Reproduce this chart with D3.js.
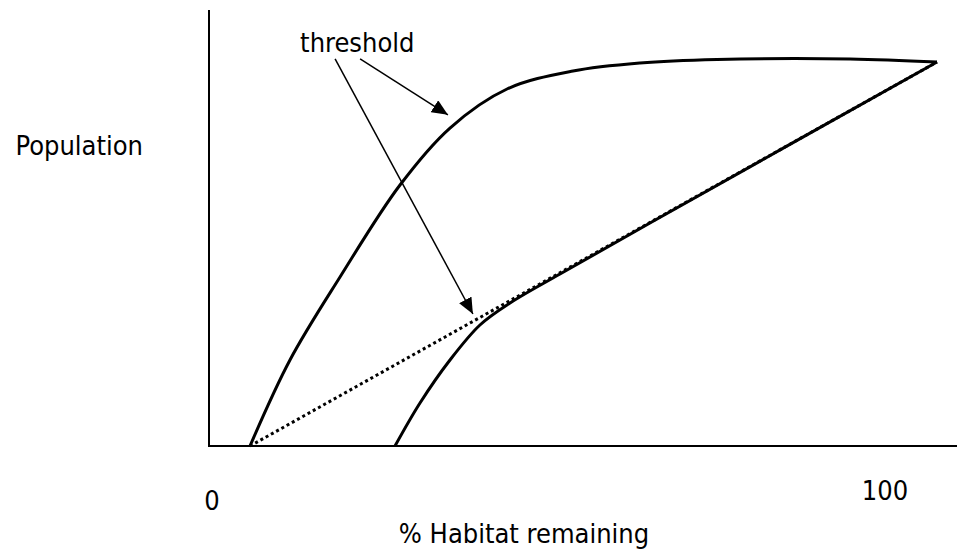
<!DOCTYPE html>
<html>
<head>
<meta charset="utf-8">
<script src="https://cdn.jsdelivr.net/npm/d3@7"></script>
<style>
  html, body { margin: 0; padding: 0; background: #fff; }
  svg { display: block; }
  text { font-family: "DejaVu Sans Condensed", "DejaVu Sans", sans-serif; font-stretch: condensed; fill: #000; }
</style>
</head>
<body>
<svg id="chart" width="958" height="555"></svg>
<script>
// ---- data (x: % habitat remaining, y: population index) ----
const upperCurve = [[3.78,0],[9.38,22.28],[16.39,43.78],[24.79,67.62],[31.79,82.38],[39.78,92.49],[49.02,97.15],[58.4,99.22],[69.19,100.13],[87.82,100.26],[100,99.48]];
const lowerCurve = [[24.09,0],[27.59,11.14],[31.79,22.28],[35.99,31.35],[40.2,37.05],[47.2,44.56],[59.8,57.77],[100,99.48]];
const linearLine = [[3.78,0],[100,99.48]];
const xTickLabels = [{v:0, t:"0"},{v:100, t:"100"}];
const arrows = [
  {from:[19.2,100.3], to:[31.5,85.8]},
  {from:[15.7,100.3], to:[35.0,34.2]}
];
const annotation = {x:10.8, y:102.1, text:"threshold"};
const xTitle = "% Habitat remaining";
const yTitle = "Population";

// ---- layout ----
const svg = d3.select("#chart");
const x = d3.scaleLinear().domain([0,100]).range([223,937]);
const y = d3.scaleLinear().domain([0,100]).range([446,60]);
const axisX0 = 209, axisX1 = 957, axisYTop = 10;
const tickLabelPos = {0:{dx:-11, y:510}, 100:{dx:-52, y:500}};

const defs = svg.append("defs");
defs.append("marker")
  .attr("id","arrowhead")
  .attr("markerUnits","userSpaceOnUse")
  .attr("viewBox","0 0 16 14")
  .attr("refX",16).attr("refY",7)
  .attr("markerWidth",16).attr("markerHeight",14)
  .attr("orient","auto")
  .append("path").attr("d","M0,0 L16,7 L0,14 Z").attr("fill","#000");

// axes
svg.append("line").attr("x1",axisX0).attr("x2",axisX0).attr("y1",axisYTop).attr("y2",y(0))
  .attr("stroke","#000").attr("stroke-width",2);
svg.append("line").attr("x1",axisX0 - 1).attr("x2",axisX1).attr("y1",y(0)).attr("y2",y(0))
  .attr("stroke","#000").attr("stroke-width",2);

const line = d3.line().x(d=>x(d[0])).y(d=>y(d[1])).curve(d3.curveCatmullRom.alpha(0.5));

svg.append("path").datum(linearLine).attr("d", d3.line().x(d=>x(d[0])).y(d=>y(d[1])))
  .attr("fill","none").attr("stroke","#000").attr("stroke-width",3).attr("stroke-dasharray","3,3");
svg.append("path").datum(upperCurve).attr("d", line)
  .attr("fill","none").attr("stroke","#000").attr("stroke-width",3).attr("stroke-linejoin","round");
svg.append("path").datum(lowerCurve).attr("d", line)
  .attr("fill","none").attr("stroke","#000").attr("stroke-width",3).attr("stroke-linejoin","round");

// arrows
svg.selectAll(".arrow").data(arrows).enter().append("line")
  .attr("class","arrow")
  .attr("x1",d=>x(d.from[0])).attr("y1",d=>y(d.from[1]))
  .attr("x2",d=>x(d.to[0])).attr("y2",d=>y(d.to[1]))
  .attr("stroke","#000").attr("stroke-width",1.5)
  .attr("marker-end","url(#arrowhead)");

svg.append("text").attr("x",x(annotation.x)).attr("y",y(annotation.y))
  .attr("font-size",27).text(annotation.text);

// tick labels
svg.selectAll(".xtick").data(xTickLabels).enter().append("text")
  .attr("class","xtick")
  .attr("x",d=>x(d.v) + tickLabelPos[d.v].dx).attr("y",d=>tickLabelPos[d.v].y)
  .attr("text-anchor","middle").attr("font-size",27).text(d=>d.t);

svg.append("text").attr("x",524).attr("y",543).attr("text-anchor","middle")
  .attr("font-size",27).text(xTitle);
svg.append("text").attr("x",143).attr("y",155).attr("text-anchor","end")
  .attr("font-size",27).text(yTitle);
</script>
</body>
</html>
